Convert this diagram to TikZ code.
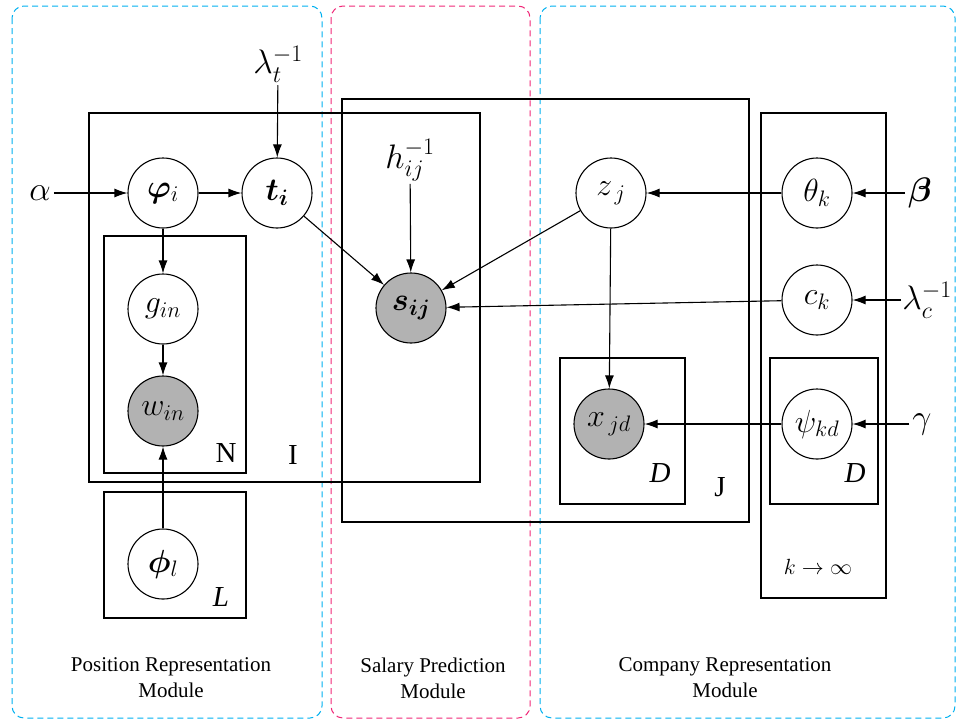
\RequirePackage{fix-cm}
\documentclass[tikz,border=0pt]{standalone}
\usepackage{fontspec}
\setmainfont{Liberation Serif}
\usepackage{amsmath,bm}
\usetikzlibrary{arrows.meta}

\definecolor{modblue}{RGB}{0,176,240}
\definecolor{modpink}{RGB}{240,40,120}

\begin{document}
\begin{tikzpicture}[x=1pt,y=-1pt,
  var/.style={circle,draw,line width=1.1pt,minimum size=70pt,inner sep=0pt,font=\fontsize{32}{36}\selectfont},
  obs/.style={var,fill=black!30},
  hyper/.style={inner sep=3pt,font=\fontsize{34}{38}\selectfont},
  plate/.style={draw,line width=1.1pt},
  edge/.style={-{Latex[length=13pt,width=9pt]},line width=1.1pt},
  module/.style={dash pattern=on 6pt off 4pt,line width=1pt,rounded corners=12pt},
  platelabel/.style={font=\fontsize{29}{33}\selectfont},
  modlabel/.style={align=center,font=\fontsize{21}{26}\selectfont}]

  \useasboundingbox (0,0) rectangle (957,721);

  % the three modules
  \draw [module,modblue] (12,6) rectangle (322,718);
  \draw [module,modpink] (331,6) rectangle (530,718);
  \draw [module,modblue] (540,6) rectangle (955,718);

  \node [modlabel] (posmod) at (171,678) {Position Representation\\Module};
  \node [modlabel] (salmod) at (433,678) {Salary Prediction\\Module};
  \node [modlabel] (commod) at (725,678) {Company Representation\\Module};

  % plates
  \draw [plate] (89,113) rectangle (480,482);   % I
  \draw [plate] (104,236) rectangle (246,473);  % N
  \draw [plate] (104,492) rectangle (246,618);  % L
  \draw [plate] (342,99) rectangle (749,522);   % J
  \draw [plate] (560,358) rectangle (685,504);  % D
  \draw [plate] (761,113) rectangle (886,598);  % k
  \draw [plate] (770,358) rectangle (878,504);  % D

  \node [platelabel] (labN) at (226,453) {N};
  \node [platelabel] (labI) at (293,455) {I};
  \node [platelabel] (labL) at (221,597) {\textit{L}};
  \node [platelabel] (labJ) at (720,487) {J};
  \node [platelabel] (labDx) at (660,473) {\textit{D}};
  \node [platelabel] (labDpsi) at (855,473) {\textit{D}};
  \node [font=\fontsize{22}{26}\selectfont] (labK) at (818,567) {$k\rightarrow\infty$};

  % position part
  \node [hyper] (alpha) at (40,193) {$\alpha$};
  \node [hyper] (lamt) at (278,64) {$\lambda_t^{-1}$};
  \node [var] (phii) at (163,193) {$\bm{\varphi}_{i}$};
  \node [var] (ti) at (277,193) {$\bm{t}_{\bm{i}}$};
  \node [var] (gin) at (163,309) {$g_{in}$};
  \node [obs] (win) at (163,411) {$w_{in}$};
  \node [var] (phil) at (163,564) {$\bm{\phi}_{l}$};

  % salary part
  \node [hyper] (hij) at (410,160) {$h_{ij}^{-1}$};
  \node [obs] (sij) at (411,308) {$\bm{s}_{\bm{ij}}$};

  % company part
  \node [var] (zj) at (611,193) {$z_{\,j}$};
  \node [obs] (xjd) at (609,424) {$x_{\,jd}$};
  \node [var] (thetak) at (817,193) {$\theta_{k}$};
  \node [var] (ck) at (817,300) {$c_{k}$};
  \node [var] (psikd) at (817,424) {$\psi_{kd}$};
  \node [hyper] (beta) at (920,193) {$\bm{\beta}$};
  \node [hyper,inner sep=1pt] (lamc) at (927,300) {$\lambda_c^{-1}$};
  \node [hyper] (gamma) at (922,424) {$\gamma$};

  % arrows
  \draw [edge] (alpha) -- (phii);
  \draw [edge] (phii) -- (ti);
  \draw [edge] (lamt) -- (ti);
  \draw [edge] (phii) -- (gin);
  \draw [edge] (gin) -- (win);
  \draw [edge] (phil) -- (win);
  \draw [edge] (ti) -- (sij);
  \draw [edge] (hij) -- (sij);
  \draw [edge] (zj) -- (sij);
  \draw [edge] (ck) -- (sij);
  \draw [edge] (zj) -- (xjd);
  \draw [edge] (thetak) -- (zj);
  \draw [edge] (psikd) -- (xjd);
  \draw [edge] (beta) -- (thetak);
  \draw [edge] (lamc) -- (ck);
  \draw [edge] (gamma) -- (psikd);
\end{tikzpicture}
\end{document}
